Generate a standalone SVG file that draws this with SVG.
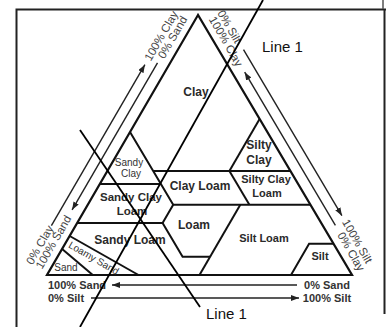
<svg xmlns="http://www.w3.org/2000/svg" width="388" height="327" viewBox="0 0 388 327">
<style>
.frame{fill:none;stroke:#222;stroke-width:2}
.tri{fill:none;stroke:#111;stroke-width:2.2;stroke-linejoin:miter}
.b{fill:none;stroke:#111;stroke-width:2}
.ar{fill:none;stroke:#222;stroke-width:1.4}
.ln{fill:none;stroke:#000;stroke-width:1.8}
text{font-family:"Liberation Sans",Arial,sans-serif}
.rl{font-weight:bold;fill:#2a2a2a;text-anchor:middle}
.sm{font-size:10px;fill:#333;text-anchor:middle}
.sl{font-size:11.5px;fill:#444}
.bl{font-size:11px;font-weight:bold;fill:#333}
.l1{font-size:15px;fill:#111}
</style>
<defs>
<marker id="ah" markerUnits="userSpaceOnUse" markerWidth="9" markerHeight="7" refX="8" refY="3" orient="auto">
<path d="M0,0 L8,3 L0,6 z" fill="#222"/>
</marker>
</defs>
<rect width="388" height="327" fill="#fff"/>
<g id="frame">
<polyline class="frame" points="16.5,327 16.5,9.5 386,9.5"/>
<line class="frame" x1="384.5" y1="9.5" x2="384.5" y2="314"/>
<line x1="383" y1="0" x2="383" y2="9" stroke="#555" stroke-width="1.5"/>
</g>
<g id="triangle">
<polygon class="tri" points="198,15 47,275 352,275"/>
</g>
<g id="boundaries">
<polyline class="b" points="130,132 153.2,171 160.9,184 173.2,204.8 162.6,223 182.6,256.8 210.1,256.8"/>
<line class="b" x1="153.2" y1="171" x2="290.4" y2="171"/>
<line class="b" x1="259.6" y1="119" x2="229.4" y2="171"/>
<line class="b" x1="99.9" y1="184" x2="160.9" y2="184"/>
<line class="b" x1="229.4" y1="171" x2="249.4" y2="204.8"/>
<line class="b" x1="173.2" y1="204.8" x2="310.4" y2="204.8"/>
<line class="b" x1="77.2" y1="223" x2="162.6" y2="223"/>
<line class="b" x1="240.3" y1="204.8" x2="199.5" y2="275"/>
<polyline class="b" points="291,275 309.1,243.8 333.5,243.8"/>
<line class="b" x1="69.7" y1="236" x2="138.5" y2="275"/>
<line class="b" x1="62.1" y1="249" x2="92.8" y2="275"/>
</g>
<g id="labels">
<text class="rl" x="196" y="96" font-size="12">Clay</text>
<text class="rl" x="259" y="149" font-size="12">Silty</text>
<text class="rl" x="259" y="164" font-size="12">Clay</text>
<text class="sm" x="129" y="166">Sandy</text>
<text class="sm" x="131" y="177">Clay</text>
<text class="rl" x="200" y="190" font-size="12">Clay Loam</text>
<text class="rl" x="266" y="183" font-size="11">Silty Clay</text>
<text class="rl" x="267" y="197" font-size="11">Loam</text>
<text class="rl" x="131" y="201" font-size="11.5">Sandy Clay</text>
<text class="rl" x="132" y="215" font-size="11.5">Loam</text>
<text class="rl" x="194" y="229" font-size="12">Loam</text>
<text class="rl" x="264" y="242" font-size="11">Silt Loam</text>
<text class="rl" x="130" y="244" font-size="12">Sandy Loam</text>
<text class="rl" x="320" y="260" font-size="11">Silt</text>
<text class="sm" transform="translate(92,261) rotate(30)" x="0" y="0">Loamy Sand</text>
<text class="sm" x="66" y="271">Sand</text>
</g>
<g id="axis-labels">
<text class="sl" transform="translate(32.4,265.4) rotate(-60)">0% Clay</text>
<text class="sl" transform="translate(42,269.8) rotate(-60)">100% Sand</text>
<text class="sl" text-anchor="end" transform="translate(178.5,13.7) rotate(-60)">100% Clay</text>
<text class="sl" text-anchor="end" transform="translate(187.6,19) rotate(-60)">0% Sand</text>
<text class="sl" transform="translate(217.1,13) rotate(60)">0% Silt</text>
<text class="sl" transform="translate(208.6,19.2) rotate(60)">100% Clay</text>
<text class="sl" text-anchor="end" transform="translate(366,264.2) rotate(60)">100% Silt</text>
<text class="sl" text-anchor="end" transform="translate(358.4,272.1) rotate(60)">0% Clay</text>
<text class="bl" x="48" y="289">100% Sand</text>
<text class="bl" x="48" y="302">0% Silt</text>
<text class="bl" x="327" y="289" text-anchor="middle">0% Sand</text>
<text class="bl" x="327" y="302" text-anchor="middle">100% Silt</text>
</g>
<g id="connectors">
<line class="ar" x1="51.4" y1="225.6" x2="144.9" y2="64.7" marker-end="url(#ah)"/>
<line class="ar" x1="157.5" y1="62.8" x2="72.1" y2="209.8" marker-end="url(#ah)"/>
<line class="ar" x1="243.5" y1="49.6" x2="341.9" y2="215.7" marker-end="url(#ah)"/>
<line class="ar" x1="335.4" y1="225.4" x2="244.7" y2="72.2" marker-end="url(#ah)"/>
<line class="ar" x1="297" y1="285" x2="112" y2="285" marker-end="url(#ah)"/>
<line class="ar" x1="91" y1="298" x2="299" y2="298" marker-end="url(#ah)"/>
</g>
<g id="line1">
<line class="ln" x1="263" y1="0" x2="80" y2="327"/>
<line class="ln" x1="80" y1="130" x2="200" y2="307"/>
<text class="l1" x="262" y="52">Line 1</text>
<text class="l1" x="206" y="319">Line 1</text>
</g>
</svg>
